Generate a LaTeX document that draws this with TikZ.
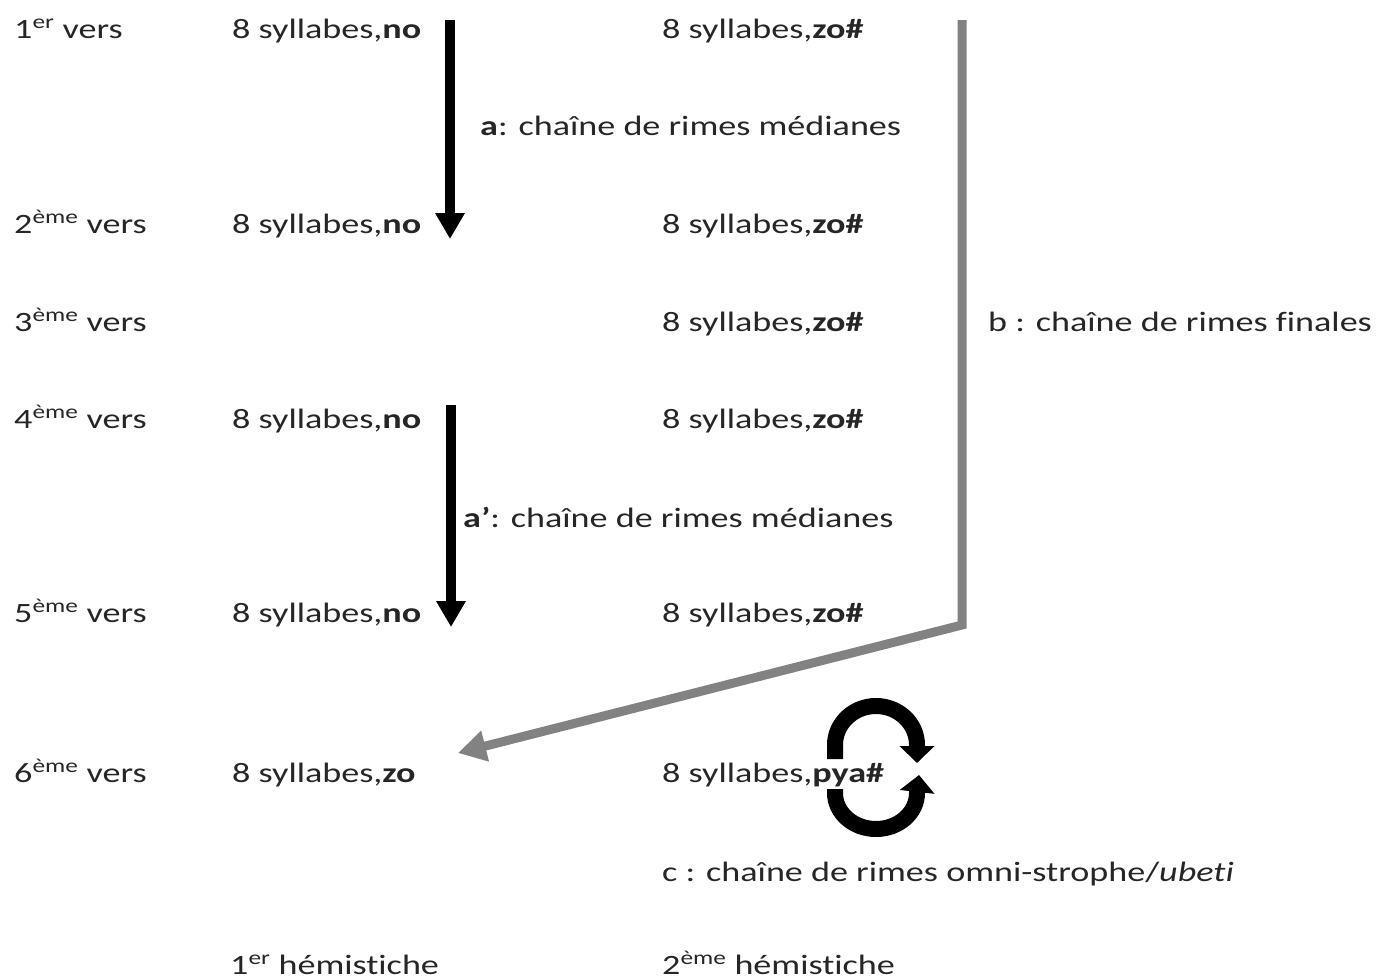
\documentclass[tikz,border=0pt]{standalone}
\usepackage{fontspec}
\setmainfont{Carlito}
\newfontfamily\widefont[FakeStretch=1.29,Ligatures={NoCommon}]{Carlito}
\usetikzlibrary{arrows.meta}
\definecolor{txtc}{HTML}{262626}
\definecolor{linegray}{HTML}{828282}
\begin{document}
\begin{tikzpicture}[x=1pt,y=-1pt,
  lbl/.style={anchor=base west, inner sep=0pt, text=txtc, font=\widefont\fontsize{28}{34}\selectfont},
  blackarrow/.style={draw=black, line width=10pt, -{Triangle[width=28pt,length=26pt]}},
  grayarrow/.style={draw=linegray, line width=9pt, line join=miter, -{Triangle[width=30pt,length=28pt]}},
  cyclearrow/.style={draw=black, line width=16pt, -{Triangle[width=34pt,length=17pt]}}]
\useasboundingbox (0,0) rectangle (1377,980);
% verse labels
\node[lbl] (v1) at (14,38)  {1\textsuperscript{er} vers};
\node[lbl] (v2) at (14,233) {2\textsuperscript{ème} vers};
\node[lbl] (v3) at (14,331) {3\textsuperscript{ème} vers};
\node[lbl] (v4) at (14,428) {4\textsuperscript{ème} vers};
\node[lbl] (v5) at (14,622) {5\textsuperscript{ème} vers};
\node[lbl] (v6) at (14,782) {6\textsuperscript{ème} vers};
% first hemistich
\node[lbl] (p1) at (232,38)  {8 syllabes,\textbf{no}};
\node[lbl] (p2) at (232,233) {8 syllabes,\textbf{no}};
\node[lbl] (p4) at (232,428) {8 syllabes,\textbf{no}};
\node[lbl] (p5) at (232,622) {8 syllabes,\textbf{no}};
\node[lbl] (p6) at (232,782) {8 syllabes,\textbf{zo}};
% second hemistich
\node[lbl] (q1) at (662,38)  {8 syllabes,\textbf{zo\#}};
\node[lbl] (q2) at (662,233) {8 syllabes,\textbf{zo\#}};
\node[lbl] (q3) at (662,331) {8 syllabes,\textbf{zo\#}};
\node[lbl] (q4) at (662,428) {8 syllabes,\textbf{zo\#}};
\node[lbl] (q5) at (662,622) {8 syllabes,\textbf{zo\#}};
% chain labels
\node[lbl] (la) at (480,135) {\textbf{a}: chaîne de rimes médianes};
\node[lbl] (lap) at (463,527) {\textbf{a’}: chaîne de rimes médianes};
\node[lbl] (lb) at (988,331) {b : chaîne de rimes finales};
\node[lbl] (lc) at (662,881) {c : chaîne de rimes omni-strophe/\textit{ubeti}};
% hemistich headers
\node[lbl] (h1) at (230,974) {1\textsuperscript{er} hémistiche};
\node[lbl] (h2) at (662,974) {2\textsuperscript{ème} hémistiche};
% arrow a
\coordinate (a1s) at (450,20);
\coordinate (a1e) at (450,239);
\draw[blackarrow] (a1s) -- (a1e);
% arrow a'
\coordinate (a2s) at (451,405);
\coordinate (a2e) at (451,627);
\draw[blackarrow] (a2s) -- (a2e);
% arrow b
\coordinate (b1) at (962,20);
\coordinate (b2) at (962,625);
\coordinate (b3) at (458,753);
\draw[grayarrow] (b1) -- (b2) -- (b3);
% cycle c
\coordinate (ct) at (876,745);
\coordinate (cb) at (876,793);
\draw[cyclearrow] ([shift={(-41,14)}]ct) -- ([shift={(-41,0)}]ct)
   arc[start angle=180, end angle=360, x radius=41, y radius=39] -- ++(0,18);
\draw[cyclearrow] ([shift={(-41,-4)}]cb) -- ([shift={(-41,0)}]cb)
   arc[start angle=180, end angle=0, x radius=41, y radius=36] -- ++(2,-18);
\node[lbl] (q6) at (662,782) {8 syllabes,\textbf{pya\#}};
\end{tikzpicture}
\end{document}
